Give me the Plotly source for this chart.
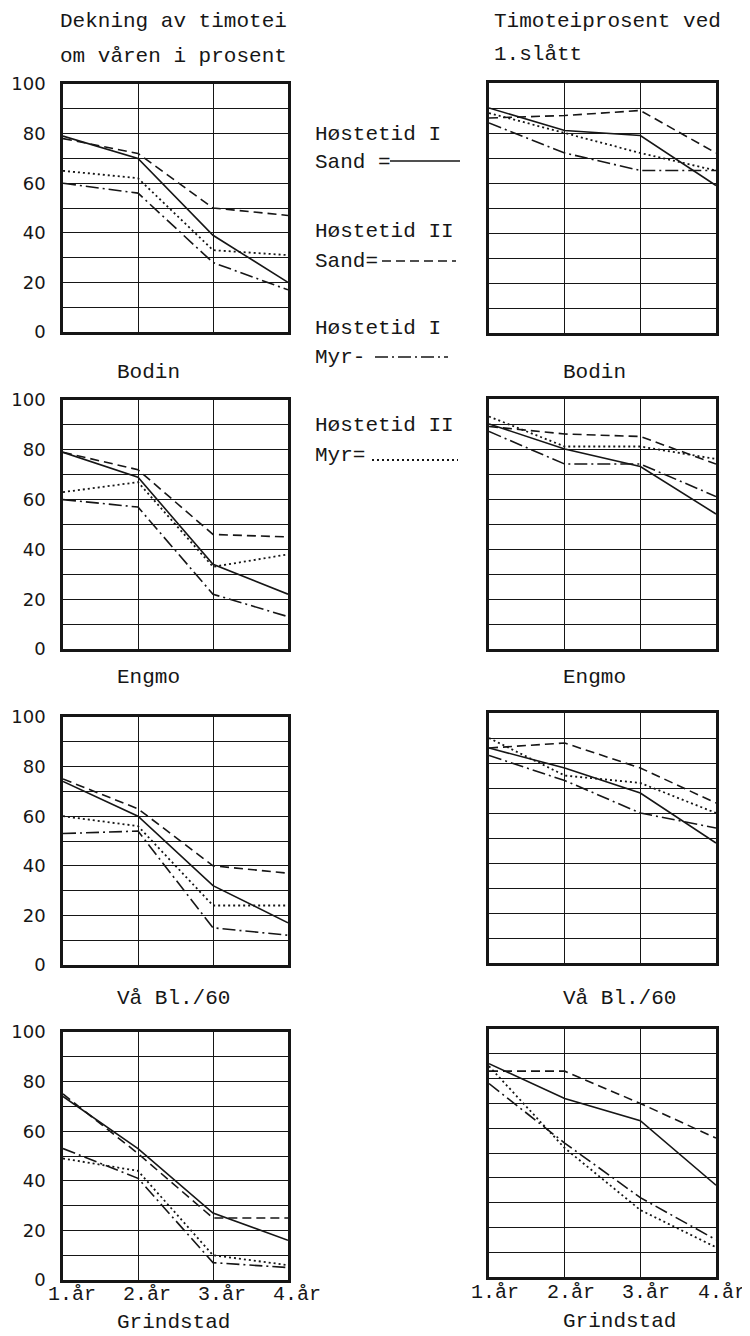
import plotly.graph_objects as go

# The page body adds an 8 px margin on the left/top, so the figure is sized to end
# exactly at the window edge and all page coordinates below are shifted by OFF.
PAGE_W, PAGE_H = 750, 1336
OFF = 8
W, H = PAGE_W - OFF, PAGE_H - OFF

# ---------------- data ----------------
categories = ["1.år", "2.år", "3.år", "4.år"]
locations = ["Bodin", "Engmo", "Vå Bl./60", "Grindstad"]
series_names = ["Høstetid I Sand", "Høstetid II Sand", "Høstetid I Myr", "Høstetid II Myr"]

y_tickvals = [0, 10, 20, 30, 40, 50, 60, 70, 80, 90, 100]
y_ticktext = ["0", "", "20", "", "40", "", "60", "", "80", "", "100"]

title_left = ["Dekning av timotei", "om våren i prosent"]
title_right = ["Timoteiprosent ved", "1.slått"]

# Dekning av timotei om våren (%) – one list per location (Bodin, Engmo, Vå Bl./60, Grindstad)
dekning_I_sand = [[79, 70, 39, 20], [79, 69, 34, 22], [74, 60, 32, 17], [74, 53, 27, 16]]
dekning_II_sand = [[78, 72, 50, 47], [79, 72, 46, 45], [75, 63, 40, 37], [75, 51, 25, 25]]
dekning_I_myr = [[60, 56, 28, 17], [60, 57, 22, 13], [53, 54, 15, 12], [53, 41, 7, 5]]
dekning_II_myr = [[65, 62, 33, 31], [63, 67, 33, 38], [60, 56, 24, 24], [49, 44, 10, 6]]

# Timoteiprosent ved 1. slått
timotei_I_sand = [[90, 81, 79, 59], [90, 80, 73, 54], [86, 78, 68, 48], [86, 72, 63, 37]]
timotei_II_sand = [[86, 87, 89, 72], [89, 86, 85, 74], [86, 88, 78, 64], [83, 83, 70, 56]]
timotei_I_myr = [[84, 72, 65, 65], [87, 74, 74, 61], [83, 73, 60, 54], [78, 54, 32, 15]]
timotei_II_myr = [[88, 80, 72, 65], [93, 81, 81, 76], [90, 75, 72, 60], [85, 52, 27, 12]]

dekning = [dekning_I_sand, dekning_II_sand, dekning_I_myr, dekning_II_myr]
timotei = [timotei_I_sand, timotei_II_sand, timotei_I_myr, timotei_II_myr]

# ---------------- styles / geometry (page pixels) ----------------
INK = "#161616"
MONO = "Liberation Mono"
dashes = ["solid", "9px,5px", "13px,4px,2px,4px", "2px,3px"]
line_w = [1.6, 1.6, 1.6, 1.8]

left_x = (63, 288)
right_x = (489, 716)
rows_left = [(84, 332), (400, 649), (717, 965), (1032, 1280)]
rows_right = [(83, 333), (399, 649), (713, 963), (1029, 1277)]
xlabel_shift = [9, 6]      # typed year labels sit a little right of the grid lines
xlabel_y = [1294, 1292]


def px(x):
    return (x - OFF) / W


def py(y):
    return 1 - (y - OFF) / H


fig = go.Figure()
layout_axes = {}
annotations = []
ax = 0
for col, (data, xr, rows) in enumerate([(dekning, left_x, rows_left), (timotei, right_x, rows_right)]):
    for r, loc in enumerate(locations):
        ax += 1
        xa = "x" if ax == 1 else f"x{ax}"
        ya = "y" if ax == 1 else f"y{ax}"
        for s, name in enumerate(series_names):
            fig.add_trace(go.Scatter(
                x=categories, y=data[s][r], mode="lines", name=name,
                xaxis=xa, yaxis=ya, showlegend=False,
                line=dict(color=INK, width=line_w[s], dash=dashes[s]),
            ))
        top, bot = rows[r]
        layout_axes["xaxis" if ax == 1 else f"xaxis{ax}"] = dict(
            domain=[px(xr[0]), px(xr[1])], anchor=ya, type="category",
            range=[0, 3], showgrid=True, gridcolor=INK, gridwidth=1.3,
            showline=True, mirror=True, linecolor=INK, linewidth=2.5,
            zeroline=False, ticks="", showticklabels=False,
            automargin=False, fixedrange=True,
        )
        layout_axes["yaxis" if ax == 1 else f"yaxis{ax}"] = dict(
            domain=[py(bot), py(top)], anchor=xa, range=[0, 100],
            tickvals=y_tickvals, ticktext=y_ticktext,
            showgrid=True, gridcolor=INK, gridwidth=1.3,
            showline=True, mirror=True, linecolor=INK, linewidth=2.5,
            zeroline=False, ticks="", showticklabels=(col == 0),
            automargin=False, ticklabelstandoff=11,
            tickfont=dict(family="DejaVu Sans", size=18, color=INK), fixedrange=True,
        )
        # year labels under the bottom row, placed on the category axis
        if r == len(locations) - 1:
            for c in categories:
                annotations.append(dict(
                    x=c, y=py(xlabel_y[col]), xref=xa, yref="paper", text=c,
                    showarrow=False, xanchor="center", yanchor="middle",
                    xshift=xlabel_shift[col],
                    font=dict(family=MONO, size=20, color=INK),
                ))


def text(x, y, s, size=21, anchor="left"):
    annotations.append(dict(
        x=px(x), y=py(y), xref="paper", yref="paper", text=s, showarrow=False,
        xanchor=anchor, yanchor="middle", font=dict(family=MONO, size=size, color=INK),
    ))


# titles
text(58, 21, title_left[0])
text(58, 56, title_left[1])
text(492, 21, title_right[0])
text(492, 55, title_right[1])

# location labels under each panel
loc_y_left = [372, 678, 998, 1322]
loc_y_right = [373, 678, 998, 1321]
for r, loc in enumerate(locations):
    text(115, loc_y_left[r], loc)
    text(561, loc_y_right[r], loc)

# legend block
text(313, 135, "Høstetid I")
text(313, 162, "Sand =")
text(313, 232, "Høstetid II")
text(313, 262, "Sand=")
text(313, 328, "Høstetid I")
text(313, 358, "Myr-")
text(313, 426, "Høstetid II")
text(313, 455, "Myr=")

shapes = []
legend_samples = [(390, 460, 161), (382, 456, 261), (375, 448, 357), (372, 458, 460)]
for s, (x0, x1, yy) in enumerate(legend_samples):
    shapes.append(dict(
        type="line", xref="paper", yref="paper",
        x0=px(x0), x1=px(x1), y0=py(yy), y1=py(yy),
        line=dict(color=INK, width=line_w[s], dash=dashes[s]),
    ))

fig.update_layout(
    width=W, height=H,
    margin=dict(l=0, r=0, t=0, b=0, autoexpand=False),
    paper_bgcolor="white", plot_bgcolor="white",
    showlegend=False,
    annotations=annotations, shapes=shapes,
    **layout_axes,
)

fig.write_html("out.html")
